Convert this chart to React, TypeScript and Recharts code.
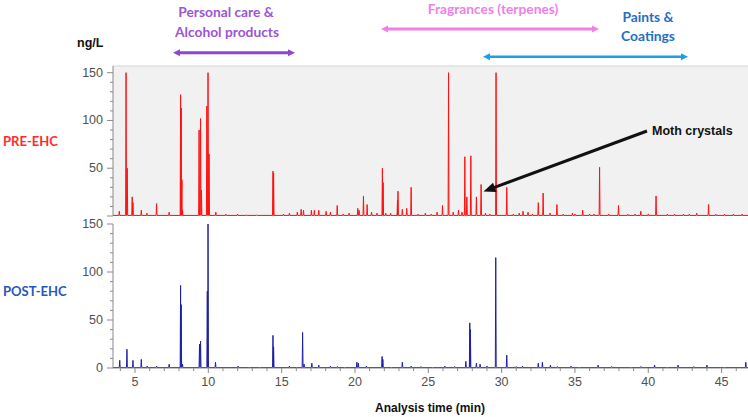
import React from 'react';
import { LineChart, Line, XAxis, YAxis, CartesianGrid, ReferenceLine } from 'recharts';

// peaks: [retention time (min), ng/L]
const preEhcPeaks: [number, number][] = [
  [3.93, 5], [4.39, 150], [4.47, 50], [4.81, 20], [4.86, 14], [5.43, 6], [5.81, 3], [6.47, 13],
  [7.33, 4], [8.11, 127], [8.15, 113], [8.2, 38], [8.24, 6], [9.37, 90], [9.47, 102], [9.53, 27],
  [9.9, 115], [9.98, 150], [10.05, 65], [10.51, 4], [11.19, 2], [12.0, 2], [12.6, 1], [13.3, 1],
  [14.41, 47], [14.45, 45], [15.13, 2], [15.53, 3], [16.07, 4], [16.33, 7], [16.49, 6], [17.03, 6],
  [17.23, 6], [17.53, 6], [18.03, 5], [18.33, 4], [18.79, 11], [19.2, 2], [19.6, 3], [20.19, 8],
  [20.28, 6], [20.58, 21], [20.83, 12], [21.13, 4], [21.5, 3], [21.87, 50], [21.92, 35], [22.1, 3],
  [22.43, 3], [22.9, 17], [22.93, 26], [23.23, 7], [23.53, 8], [23.83, 30], [24.3, 2], [24.8, 3],
  [25.2, 2], [25.6, 4], [25.97, 11], [26.38, 150], [26.7, 4], [27.06, 6], [27.3, 4], [27.49, 62],
  [27.63, 20], [27.9, 63], [28.28, 20], [28.6, 33], [28.9, 3], [29.2, 2], [29.62, 150], [30.35, 30],
  [30.8, 2], [31.2, 3], [31.46, 5], [31.8, 4], [32.1, 2], [32.5, 14], [32.83, 24], [33.3, 3],
  [33.77, 12], [34.2, 2], [34.83, 3], [35.0, 2], [35.53, 6], [36.0, 2], [36.3, 2], [36.68, 51],
  [37.3, 2], [37.97, 11], [38.6, 2], [39.1, 2], [39.49, 5], [40.0, 2], [40.53, 21], [41.3, 2],
  [41.8, 2], [42.4, 2], [42.8, 2], [43.3, 3], [44.11, 12], [44.6, 2], [45.2, 2], [45.8, 2], [46.4, 2],
];

const postEhcPeaks: [number, number][] = [
  [3.96, 8], [4.45, 19.5], [4.86, 8], [5.43, 9], [5.83, 2], [6.47, 2], [7.33, 4], [8.11, 86],
  [8.15, 66], [8.24, 4], [9.4, 25], [9.47, 28], [9.93, 80], [9.98, 150], [10.49, 6], [12.03, 2],
  [12.8, 1], [13.5, 1], [14.41, 34], [14.45, 22], [15.53, 2], [16.03, 1], [16.43, 37], [16.53, 4],
  [17.06, 5], [17.53, 3], [18.33, 2], [18.8, 1.5], [19.3, 1], [20.13, 6], [20.23, 5], [20.78, 2],
  [21.85, 12], [21.9, 9], [22.5, 1], [23.23, 6], [23.83, 2], [24.5, 1.5], [25.3, 1], [26.13, 2],
  [26.8, 1.5], [27.56, 7], [27.83, 47], [27.87, 40], [28.28, 5], [28.53, 4], [29.0, 2], [29.6, 115],
  [30.35, 13.5], [31.0, 1.5], [31.43, 2], [32.5, 5], [32.78, 6], [33.33, 3], [33.8, 1.5], [34.73, 2],
  [35.3, 1], [36.58, 3], [37.5, 1.5], [38.8, 1], [39.5, 1.5], [40.43, 3], [41.3, 1], [42.03, 3],
  [43.1, 1.5], [44.0, 3], [45.2, 1], [46.65, 6],
];

const xTicks = [4, 5, 6, 7, 8, 9, 10, 11, 12, 13, 14, 15, 16, 17, 18, 19, 20, 21, 22, 23, 24, 25,
  26, 27, 28, 29, 30, 31, 32, 33, 34, 35, 36, 37, 38, 39, 40, 41, 42, 43, 44, 45, 46];
const xTickLabels = [5, 10, 15, 20, 25, 30, 35, 40, 45];
const yTicks = [0, 10, 20, 30, 40, 50, 60, 70, 80, 90, 100, 110, 120, 130, 140, 150];
const yTickLabels = [0, 50, 100, 150];

const X_MIN = 3.5;
const X_MAX = 46.8;

function toTrace(peaks: [number, number][], base: number) {
  const pts: { t: number; v: number }[] = [{ t: X_MIN, v: base }];
  peaks.forEach(([t, h]) => {
    pts.push({ t: t - 0.03, v: base }, { t, v: h }, { t: t + 0.03, v: base });
  });
  pts.push({ t: X_MAX, v: base });
  return pts.sort((a, b) => a.t - b.t);
}

const preData = toTrace(preEhcPeaks, 0.6);
const postData = toTrace(postEhcPeaks, 0.5);

const axisGray = '#8a8a8a';
const tickFont = { fontFamily: 'Liberation Sans, Arial, sans-serif', fontSize: 12.5, fill: '#505050' };

const makeYTick = (hideZero: boolean) => (props: any) => {
  const { x, y, payload } = props;
  const major = yTickLabels.includes(payload.value);
  return (
    <g>
      <line x1={x - (major ? 6 : 3)} x2={x} y1={y} y2={y} stroke={axisGray} />
      {major && !(hideZero && payload.value === 0) && (
        <text x={x - 10} y={y} dy={4} textAnchor="end" {...tickFont}>{payload.value}</text>
      )}
    </g>
  );
};

const XTick = (props: any) => {
  const { x, y, payload } = props;
  const major = xTickLabels.includes(payload.value);
  return (
    <g>
      <line x1={x} x2={x} y1={y} y2={y + (major ? 5 : 3)} stroke={axisGray} />
      {major && (
        <text x={x} y={y + 18} textAnchor="middle" {...tickFont}>{payload.value}</text>
      )}
    </g>
  );
};

function DoubleArrow({ x1, x2, y, color, w }: { x1: number; x2: number; y: number; color: string; w: number }) {
  return (
    <g>
      <line x1={x1 + 5} x2={x2 - 5} y1={y} y2={y} stroke={color} strokeWidth={w} />
      <polygon points={`${x1},${y} ${x1 + 7},${y - 3.5} ${x1 + 7},${y + 3.5}`} fill={color} />
      <polygon points={`${x2},${y} ${x2 - 7},${y - 3.5} ${x2 - 7},${y + 3.5}`} fill={color} />
    </g>
  );
}

function Pointer({ x1, y1, x2, y2 }: { x1: number; y1: number; x2: number; y2: number }) {
  const dx = x2 - x1;
  const dy = y2 - y1;
  const len = Math.sqrt(dx * dx + dy * dy);
  const ux = dx / len;
  const uy = dy / len;
  const bx = x2 - ux * 12;
  const by = y2 - uy * 12;
  const nx = -uy * 5;
  const ny = ux * 5;
  return (
    <g>
      <line x1={x1} y1={y1} x2={bx + ux} y2={by + uy} stroke="#111" strokeWidth={3} />
      <polygon points={`${x2},${y2} ${bx + nx},${by + ny} ${bx - nx},${by - ny}`} fill="#111" />
    </g>
  );
}

const labelFont = { fontFamily: 'Lato, sans-serif', fontWeight: 700 };

export default function App() {
  return (
    <div style={{ position: 'absolute', left: 0, top: 0, width: 748, height: 417, background: '#fff', overflow: 'hidden' }}>
      <div style={{ position: 'absolute', left: 0, top: 0 }}>
        <LineChart width={748} height={220} data={preData} margin={{ top: 66, right: 0, bottom: 4, left: 0 }}>
          <CartesianGrid horizontal={false} vertical={false} fill="#f1f1f1" />
          <ReferenceLine y={157} stroke="#d6d6d6" ifOverflow="extendDomain" />
          <XAxis type="number" dataKey="t" domain={[X_MIN, X_MAX]} allowDataOverflow height={0}
            tick={false} tickLine={false} axisLine={{ stroke: '#9a9a9a' }} />
          <YAxis type="number" domain={[0, 157]} allowDataOverflow ticks={yTicks} width={113}
            tickSize={0} tickMargin={0} tickLine={false} axisLine={{ stroke: axisGray }} tick={makeYTick(true)}
            interval={0} />
          <Line type="linear" dataKey="v" stroke="#ff1010" strokeWidth={1} dot={false} isAnimationActive={false} />
        </LineChart>
      </div>
      <div style={{ position: 'absolute', left: 0, top: 216 }}>
        <LineChart width={748} height={201} data={postData} margin={{ top: 8, right: 0, bottom: 0, left: 0 }}>
          <XAxis type="number" dataKey="t" domain={[X_MIN, X_MAX]} allowDataOverflow ticks={xTicks} height={49}
            tickSize={0} tickMargin={0} tickLine={false} axisLine={{ stroke: axisGray }} tick={XTick} interval={0} />
          <YAxis type="number" domain={[0, 150]} allowDataOverflow ticks={yTicks} width={113}
            tickSize={0} tickMargin={0} tickLine={false} axisLine={{ stroke: axisGray }} tick={makeYTick(false)}
            interval={0} />
          <Line type="linear" dataKey="v" stroke="#1f1fa6" strokeWidth={1} dot={false} isAnimationActive={false} />
        </LineChart>
      </div>
      <svg width={748} height={417} style={{ position: 'absolute', left: 0, top: 0, pointerEvents: 'none' }}>
        <text x={77} y={47} fontFamily="Liberation Sans, Arial, sans-serif" fontWeight={700} fontSize={12.5} fill="#111">ng/L</text>
        <text x={3} y={146} {...labelFont} fontSize={13} fill="#ff2a2a">PRE-EHC</text>
        <text x={3} y={296} {...labelFont} fontSize={13} fill="#2457c2">POST-EHC</text>
        <text x={430} y={412} textAnchor="middle" fontFamily="Liberation Sans, Arial, sans-serif" fontWeight={700} fontSize={12} fill="#111">Analysis time (min)</text>

        <text x={226} y={17} textAnchor="middle" {...labelFont} fontSize={13.8} fill="#9b55d6">Personal care &amp;</text>
        <text x={227} y={37} textAnchor="middle" {...labelFont} fontSize={13.8} fill="#9b55d6">Alcohol products</text>
        <DoubleArrow x1={173} x2={295} y={52.7} color="#9146d2" w={3} />

        <text x={493} y={14} textAnchor="middle" {...labelFont} fontSize={13.8} fill="#f07fe6">Fragrances (terpenes)</text>
        <DoubleArrow x1={381} x2={599} y={29} color="#f07fe6" w={3} />

        <text x={648} y={22} textAnchor="middle" {...labelFont} fontSize={13.8} fill="#1f6fc8">Paints &amp;</text>
        <text x={648} y={41} textAnchor="middle" {...labelFont} fontSize={13.8} fill="#1f6fc8">Coatings</text>
        <DoubleArrow x1={483} x2={688} y={56.7} color="#1aa0e8" w={2.5} />

        <Pointer x1={647} y1={131} x2={483.5} y2={191.5} />
        <text x={652} y={135} fontFamily="Liberation Sans, Arial, sans-serif" fontWeight={700} fontSize={12.5} fill="#111">Moth crystals</text>
      </svg>
    </div>
  );
}
